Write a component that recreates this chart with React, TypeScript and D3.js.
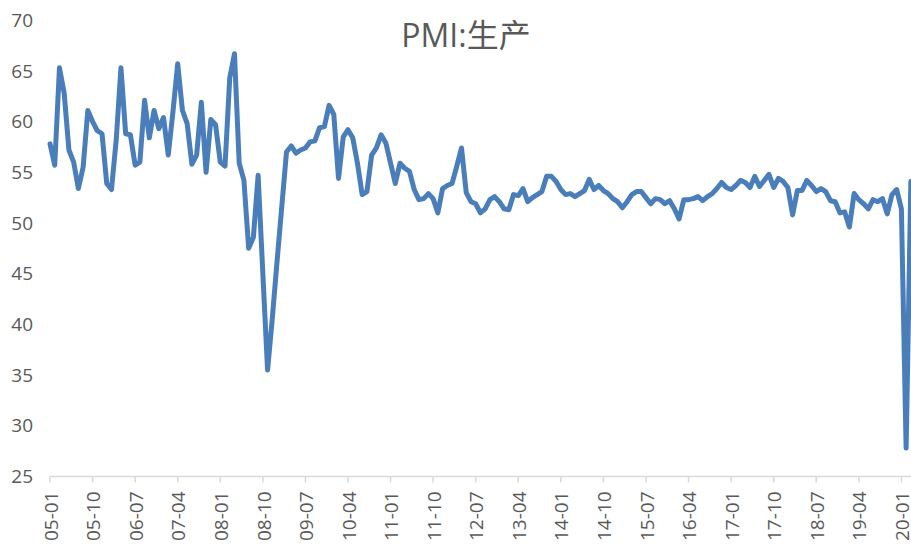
import React, { useEffect, useRef } from 'react';
import * as d3 from 'd3';

// monthly categories 2005-01 .. 2020-03
const months: string[] = [];
for (let y = 5; y <= 20; y++) {
  for (let m = 1; m <= 12; m++) {
    if (y === 20 && m > 3) break;
    months.push(`${String(y).padStart(2, '0')}-${String(m).padStart(2, '0')}`);
  }
}

const values = [
  57.8, 55.7, 65.3, 62.8, 57.2, 56.0, 53.4, 55.5, 61.1, 60.0, 59.1, 58.8,
  53.9, 53.3, 58.2, 65.3, 58.8, 58.7, 55.7, 56.0, 62.1, 58.4, 61.1, 59.3,
  60.4, 56.7, 61.0, 65.7, 61.1, 59.8, 55.8, 56.7, 61.9, 55.0, 60.2, 59.7,
  56.0, 55.6, 64.3, 66.7, 55.9, 54.2, 47.5, 48.6, 54.7, 45.0, 35.5, 40.6,
  46.2, 51.6, 57.0, 57.6, 56.9, 57.2, 57.4, 58.0, 58.1, 59.4, 59.5, 61.6,
  60.7, 54.4, 58.5, 59.2, 58.4, 55.9, 52.8, 53.1, 56.7, 57.4, 58.7, 57.9,
  55.9, 53.9, 55.9, 55.4, 55.1, 53.3, 52.3, 52.4, 52.9, 52.4, 51.0, 53.4,
  53.7, 53.9, 55.6, 57.4, 53.0, 52.1, 51.9, 51.0, 51.4, 52.3, 52.6, 52.1,
  51.4, 51.3, 52.8, 52.7, 53.4, 52.1, 52.5, 52.8, 53.1, 54.6, 54.6, 54.1,
  53.3, 52.8, 52.9, 52.6, 52.9, 53.2, 54.3, 53.3, 53.7, 53.2, 52.9, 52.4,
  52.1, 51.5, 52.1, 52.8, 53.1, 53.1, 52.5, 51.9, 52.4, 52.3, 51.9, 52.2,
  51.4, 50.4, 52.3, 52.3, 52.4, 52.6, 52.2, 52.6, 52.9, 53.4, 54.0, 53.5,
  53.3, 53.7, 54.2, 54.0, 53.5, 54.6, 53.6, 54.2, 54.8, 53.5, 54.4, 54.1,
  53.5, 50.8, 53.2, 53.2, 54.2, 53.7, 53.1, 53.4, 53.1, 52.2, 52.1, 51.0,
  51.1, 49.6, 52.9, 52.3, 51.9, 51.4, 52.3, 52.1, 52.4, 50.9, 52.8, 53.3,
  51.4, 27.8, 54.1,
];

const tickLabels = [
  '05-01', '05-10', '06-07', '07-04', '08-01', '08-10', '09-07', '10-04',
  '11-01', '11-10', '12-07', '13-04', '14-01', '14-10', '15-07', '16-04',
  '17-01', '17-10', '18-07', '19-04', '20-01',
];

const yTicks = [25, 30, 35, 40, 45, 50, 55, 60, 65, 70];

const W = 911;
const H = 549;
const textColor = '#595959';
const font = '"Open Sans", "Noto Sans CJK SC", sans-serif';

function drawChart(node: SVGSVGElement) {
  const svg = d3.select(node);
  svg.selectAll('*').remove();

  const x = d3.scalePoint<string>()
    .domain(months)
    .range([50, 50 + (months.length - 1) * 4.73]);

  const y = d3.scaleLinear()
    .domain([25, 70])
    .range([476.5, 20.2]);

  // title
  svg.append('text')
    .attr('x', 466)
    .attr('y', 47)
    .attr('text-anchor', 'middle')
    .style('font-family', font)
    .style('font-size', '32px')
    .style('fill', textColor)
    .text('PMI:生产');

  // y labels
  svg.append('g')
    .selectAll('text')
    .data(yTicks)
    .enter().append('text')
    .attr('x', 33)
    .attr('y', d => y(d))
    .attr('dy', '0.35em')
    .attr('text-anchor', 'end')
    .style('font-family', font)
    .style('font-size', '19px')
    .style('fill', textColor)
    .text(d => d);

  // x axis line + ticks
  const axis = svg.append('g');
  axis.append('line')
    .attr('x1', 50)
    .attr('x2', W)
    .attr('y1', y(25))
    .attr('y2', y(25))
    .style('stroke', '#d9d9d9')
    .style('stroke-width', 1.5);

  axis.selectAll('line.tick')
    .data(tickLabels)
    .enter().append('line')
    .attr('class', 'tick')
    .attr('x1', d => x(d)!)
    .attr('x2', d => x(d)!)
    .attr('y1', y(25))
    .attr('y2', y(25) + 6)
    .style('stroke', '#d9d9d9')
    .style('stroke-width', 1.5);

  axis.selectAll('text')
    .data(tickLabels)
    .enter().append('text')
    .attr('transform', d => `translate(${x(d)! + 1},${y(25) + 15}) rotate(-90)`)
    .attr('dy', '0.35em')
    .attr('text-anchor', 'end')
    .style('font-family', font)
    .style('font-size', '19px')
    .style('fill', textColor)
    .text(d => d);

  // line
  const line = d3.line<number>()
    .x((d, i) => x(months[i])!)
    .y(d => y(d));

  svg.append('path')
    .datum(values)
    .attr('d', line)
    .style('fill', 'none')
    .style('stroke', '#4a7ebb')
    .style('stroke-width', 5)
    .style('stroke-linejoin', 'round')
    .style('stroke-linecap', 'round');
}

const App = () => {
  const ref = useRef<SVGSVGElement>(null);

  useEffect(() => {
    if (ref.current) drawChart(ref.current);
  }, []);

  return (
    <svg
      ref={ref}
      width={W}
      height={H}
      style={{ position: 'absolute', left: 0, top: 0, background: '#fff' }}
    />
  );
};

export default App;
